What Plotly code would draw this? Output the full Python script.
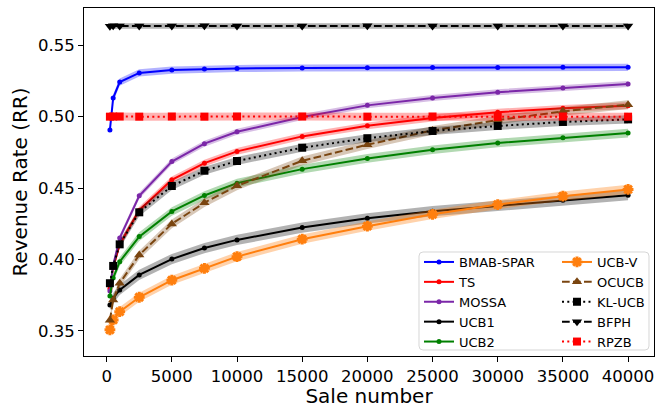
import plotly.graph_objects as go

# Sale numbers at which the revenue rate was measured
sale_number = [250, 500, 1000, 2500, 5000, 7500, 10000, 15000, 20000, 25000, 30000, 35000, 40000]

# Mean revenue rate per policy
bmab_spar = [0.4906, 0.5129, 0.5241, 0.5305, 0.5325, 0.5332, 0.5336, 0.5339, 0.5341, 0.5342, 0.5343, 0.5344, 0.5344]
ts = [0.3795, 0.3945, 0.4105, 0.4345, 0.4557, 0.4674, 0.4756, 0.4861, 0.4935, 0.4990, 0.5030, 0.5057, 0.5075]
mossa = [0.3780, 0.3960, 0.4150, 0.4445, 0.4685, 0.4810, 0.4893, 0.4996, 0.5078, 0.5129, 0.5170, 0.5200, 0.5228]
ucb1 = [0.3682, 0.3729, 0.3787, 0.3892, 0.4003, 0.4080, 0.4137, 0.4223, 0.4288, 0.4338, 0.4375, 0.4415, 0.4450]
ucb2 = [0.3745, 0.3870, 0.3985, 0.4160, 0.4336, 0.4448, 0.4534, 0.4632, 0.4707, 0.4768, 0.4815, 0.4852, 0.4884]
ucb_v = [0.3508, 0.3577, 0.3635, 0.3736, 0.3855, 0.3938, 0.4020, 0.4142, 0.4233, 0.4316, 0.4384, 0.4443, 0.4490]
ocucb = [0.3575, 0.3717, 0.3834, 0.4032, 0.4249, 0.4397, 0.4515, 0.4690, 0.4803, 0.4903, 0.4975, 0.5036, 0.5083]
kl_ucb = [0.3834, 0.3955, 0.4106, 0.4330, 0.4514, 0.4621, 0.4689, 0.4782, 0.4848, 0.4899, 0.4934, 0.4962, 0.4980]
bfph = [0.5632, 0.5634, 0.5633, 0.5633, 0.5633, 0.5634, 0.5633, 0.5633, 0.5634, 0.5633, 0.5633, 0.5633, 0.5633]
rpzb = [0.4999, 0.5000, 0.5000, 0.4999, 0.5000, 0.4999, 0.5000, 0.5000, 0.4999, 0.5000, 0.4999, 0.5000, 0.4999]

# Half-width of the shaded spread band around each policy
bmab_spar_sd = 0.0025
ts_sd = 0.0024
mossa_sd = 0.0021
ucb1_sd = 0.0036
ucb2_sd = 0.0030
ucb_v_sd = 0.0032
ocucb_sd = 0.0030
kl_ucb_sd = 0.0028
bfph_sd = 0.0020
rpzb_sd = 0.0028

x_ticks = [0, 5000, 10000, 15000, 20000, 25000, 30000, 35000, 40000]
y_ticks = [0.35, 0.40, 0.45, 0.50, 0.55]

FONT = "DejaVu Sans"
W, H = 659, 408
L, R, T, B = 84, 5, 8, 52
PW, PH = W - L - R, H - T - B

DOTTED = "2px,3.3px"
DASHED = "7.7px,3.3px"

series = [
    # name, values, spread, line colour, band colour, dash, symbol, size, legend
    ("BMAB-SPAR", bmab_spar, bmab_spar_sd, "#0000ff", "rgba(0,0,255,0.3)", "solid", "circle", 5, "legend"),
    ("TS", ts, ts_sd, "#ff0000", "rgba(255,0,0,0.3)", "solid", "circle", 5, "legend"),
    ("MOSSA", mossa, mossa_sd, "#7b27a8", "rgba(123,39,168,0.3)", "solid", "circle", 5, "legend"),
    ("UCB1", ucb1, ucb1_sd, "#000000", "rgba(0,0,0,0.3)", "solid", "circle", 5, "legend"),
    ("UCB2", ucb2, ucb2_sd, "#008000", "rgba(0,128,0,0.3)", "solid", "circle", 5, "legend"),
    ("UCB-V", ucb_v, ucb_v_sd, "#ff7f0e", "rgba(255,127,14,0.35)", "solid", "asterisk-open", 9, "legend2"),
    ("OCUCB", ocucb, ocucb_sd, "#7a4510", "rgba(122,69,16,0.3)", DASHED, "triangle-up", 9, "legend2"),
    ("KL-UCB", kl_ucb, kl_ucb_sd, "#000000", "rgba(0,0,0,0.3)", DOTTED, "square", 8, "legend2"),
    ("BFPH", bfph, bfph_sd, "#000000", "rgba(0,0,0,0.3)", DASHED, "triangle-down", 9, "legend2"),
    ("RPZB", rpzb, rpzb_sd, "#ff0000", "rgba(255,0,0,0.3)", DOTTED, "square", 8, "legend2"),
]

fig = go.Figure()

for name, vals, sd, color, band, dash, symbol, size, leg in series:
    upper = [v + sd for v in vals]
    lower = [v - sd for v in vals]
    fig.add_trace(go.Scatter(x=sale_number, y=upper, mode="lines", line=dict(width=0),
                             showlegend=False, hoverinfo="skip"))
    fig.add_trace(go.Scatter(x=sale_number, y=lower, mode="lines", line=dict(width=0),
                             fill="tonexty", fillcolor=band, showlegend=False, hoverinfo="skip"))
    marker = dict(symbol=symbol, size=size, color=color)
    if symbol == "asterisk-open":
        marker["line"] = dict(color=color, width=3)
    else:
        marker["line"] = dict(width=0)
    fig.add_trace(go.Scatter(x=sale_number, y=vals, mode="lines+markers", name=name,
                             line=dict(color=color, width=2, dash=dash),
                             marker=marker, legend=leg))


def px_x(px):
    return (px - L) / PW


def px_y(py):
    return (H - B - py) / PH


# Rounded legend frame behind both legend columns
bx0, bx1, by0, by1, rad = 419, 649, 252, 350, 4
path = (
    f"M {px_x(bx0 + rad)},{px_y(by0)} L {px_x(bx1 - rad)},{px_y(by0)} "
    f"Q {px_x(bx1)},{px_y(by0)} {px_x(bx1)},{px_y(by0 + rad)} "
    f"L {px_x(bx1)},{px_y(by1 - rad)} Q {px_x(bx1)},{px_y(by1)} {px_x(bx1 - rad)},{px_y(by1)} "
    f"L {px_x(bx0 + rad)},{px_y(by1)} Q {px_x(bx0)},{px_y(by1)} {px_x(bx0)},{px_y(by1 - rad)} "
    f"L {px_x(bx0)},{px_y(by0 + rad)} Q {px_x(bx0)},{px_y(by0)} {px_x(bx0 + rad)},{px_y(by0)} Z"
)
fig.add_shape(type="path", path=path, xref="paper", yref="paper", layer="above",
              fillcolor="rgba(255,255,255,0.8)", line=dict(color="rgba(204,204,204,0.8)", width=1))

legend_style = dict(
    font=dict(family=FONT, size=13, color="#000"),
    bgcolor="rgba(0,0,0,0)", borderwidth=0, tracegroupgap=0, traceorder="normal",
    xanchor="left", yanchor="top", itemclick=False, itemdoubleclick=False,
)

fig.update_layout(
    width=W, height=H,
    margin=dict(l=L, r=R, t=T, b=B),
    paper_bgcolor="white", plot_bgcolor="white",
    font=dict(family=FONT, color="#000"),
    showlegend=True,
    legend=dict(x=px_x(419), y=px_y(247), **legend_style),
    legend2=dict(x=px_x(557), y=px_y(247), **legend_style),
    xaxis=dict(
        range=[-1737.5, 41987.5], tickvals=x_ticks, ticktext=[str(t) for t in x_ticks],
        showgrid=False, zeroline=False, showline=True, mirror=True, linecolor="#000", linewidth=1,
        ticks="outside", ticklen=5, tickwidth=1, tickcolor="#000",
        tickfont=dict(family=FONT, size=16.5, color="#000"),
        title=dict(text="Sale number", font=dict(family=FONT, size=20, color="#000"), standoff=4),
    ),
    yaxis=dict(
        range=[0.3325, 0.5759], tickvals=y_ticks, ticktext=[f"{t:.2f}" for t in y_ticks],
        showgrid=False, zeroline=False, showline=True, mirror=True, linecolor="#000", linewidth=1,
        ticks="outside", ticklen=5, tickwidth=1, tickcolor="#000",
        tickfont=dict(family=FONT, size=16.5, color="#000"),
        title=dict(text="Revenue Rate (RR)", font=dict(family=FONT, size=20, color="#000"), standoff=4),
    ),
)

fig.write_html("out.html")
